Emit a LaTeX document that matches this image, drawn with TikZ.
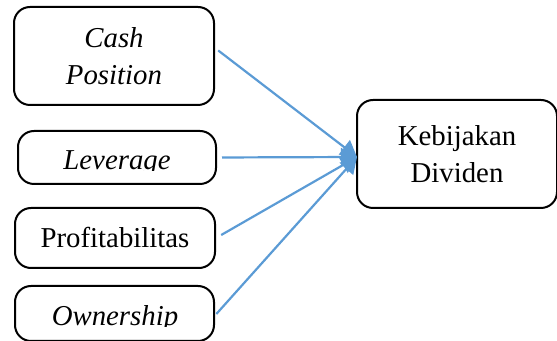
\documentclass[tikz,border=0pt]{standalone}
\usepackage{fontspec}
\setmainfont{Liberation Serif}
\usetikzlibrary{arrows.meta}

\definecolor{linkblue}{RGB}{91,155,213}

\begin{document}
\begin{tikzpicture}[
    x=0.5pt, y=-0.5pt,
    every node/.style={font=\fontsize{14.4}{18.5}\selectfont},
    block/.style={rectangle, draw=black, line width=1pt, rounded corners=8pt, align=center, inner sep=0pt},
    arrow/.style={-{Triangle[length=8pt,width=9pt]}, line width=1.1pt, draw=linkblue}
]
    \useasboundingbox (0,0) rectangle (557,341);

    \node [block, minimum width=100pt, minimum height=49pt] (cash) at (114,56) {\textit{Cash}\\\textit{Position}};
    \node [block, minimum width=99pt, minimum height=26.5pt] (lev) at (117,157.5) {};
    \node [block, minimum width=100pt, minimum height=30pt] (prof) at (115,238) {Profitabilitas};
    \node [block, minimum width=99.5pt, minimum height=27.5pt] (own) at (114.5,313.5) {};
    \node [block, minimum width=100pt, minimum height=54pt] (kd) at (457,154) {Kebijakan\\Dividen};

    % text cut off at the bottom, as in the source
    \begin{scope}
        \clip (20,133) rectangle (214,171);
        \node [anchor=base] (levtxt) at (117,170) {\textit{Leverage}};
    \end{scope}
    \begin{scope}
        \clip (17,288) rectangle (212,327);
        \node [anchor=base] (owntxt) at (115,326) {\textit{Ownership}};
    \end{scope}

    \coordinate (tip) at (357,157);
    \draw [arrow, shorten <=2pt] ([yshift=4pt]cash.east) -- (tip);
    \draw [arrow, shorten <=2.5pt] (lev.east) -- (tip);
    \draw [arrow, shorten <=3pt] (prof.east) -- (tip);
    \draw [arrow, shorten <=1pt] ([yshift=-1pt]own.east) -- (tip);
\end{tikzpicture}
\end{document}
